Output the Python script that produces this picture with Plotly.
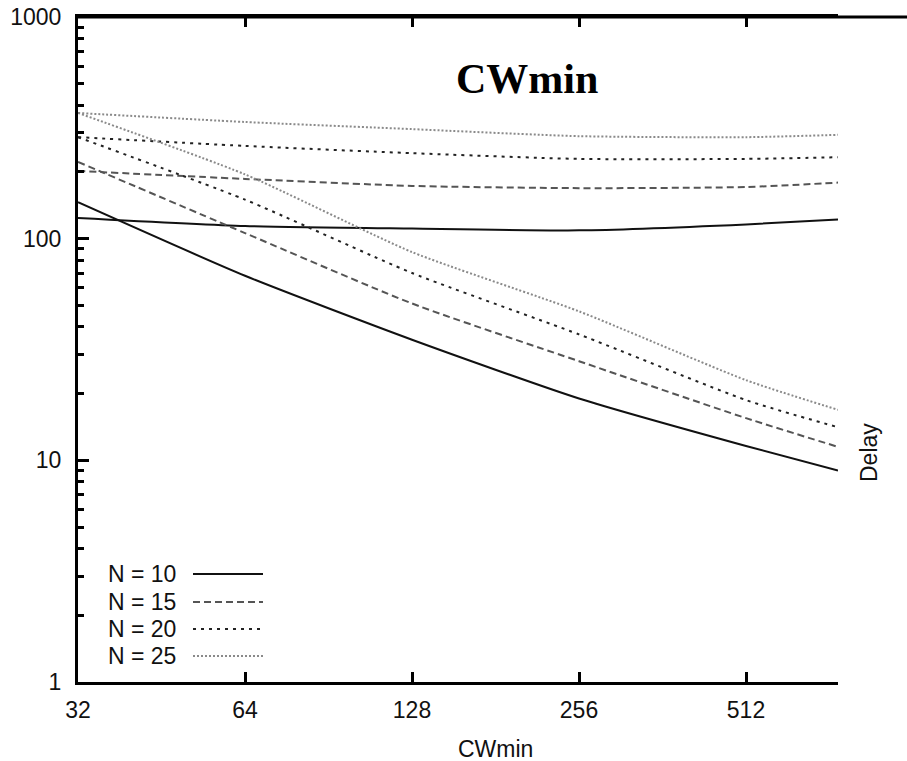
import plotly.graph_objects as go

# Contention window sizes (x) and delay values for each station count
cwmin = [32, 64, 128, 256, 512, 750]

delay_n10_a = [146, 68, 35, 19.0, 11.6, 9.0]
delay_n15_a = [222, 106, 51, 28.0, 15.5, 11.5]
delay_n20_a = [287, 150, 70, 37.0, 18.7, 14.1]
delay_n25_a = [369, 195, 87, 47.0, 23.0, 16.9]

delay_n10_b = [124, 114, 111, 109, 116, 122]
delay_n15_b = [202, 186, 173, 169, 171, 179]
delay_n20_b = [287, 262, 243, 229, 229, 233]
delay_n25_b = [369, 336, 312, 290, 287, 294]

x_ticks = [32, 64, 128, 256, 512]
y_ticks = [1, 10, 100, 1000]
legend_labels = ["N = 10", "N = 15", "N = 20", "N = 25"]

styles = [
    dict(color="#111111", width=2, dash="solid"),
    dict(color="#555555", width=2, dash="7px,4px"),
    dict(color="#222222", width=2, dash="3px,5px"),
    dict(color="#8a8a8a", width=2, dash="2px,2px"),
]

series = [
    (delay_n10_a, delay_n10_b),
    (delay_n15_a, delay_n15_b),
    (delay_n20_a, delay_n20_b),
    (delay_n25_a, delay_n25_b),
]

fig = go.Figure()
for (ya, yb), st, name in zip(series, styles, legend_labels):
    for ys in (ya, yb):
        fig.add_trace(go.Scatter(
            x=cwmin, y=ys, mode="lines", name=name, showlegend=False,
            line=dict(color=st["color"], width=st["width"], dash=st["dash"],
                      shape="spline", smoothing=0.6),
        ))

# Hand-built legend: label text followed by a line sample
L, R, T, B = 78, 69, 17, 79
W, H = 907 - L - R, 761 - T - B
row_y = [574, 602, 629, 656]
for name, st, py in zip(legend_labels, styles, row_y):
    yp = (682 - py) / H
    fig.add_annotation(x=(106 - L) / W, y=yp, xref="paper", yref="paper",
                       text=name, showarrow=False, xanchor="left", yanchor="middle",
                       font=dict(family="Liberation Sans", size=23, color="#111"))
    fig.add_shape(type="line", xref="paper", yref="paper",
                  x0=(193 - L) / W, x1=(263 - L) / W, y0=yp, y1=yp,
                  line=dict(color=st["color"], width=st["width"], dash=st["dash"]))

# Top frame line continues past the plotting area
fig.add_shape(type="line", xref="paper", yref="paper", x0=0, x1=(907 - L) / W,
              y0=1, y1=1, line=dict(color="black", width=3))

fig.add_annotation(x=(527 - L) / W, y=(682 - 79) / H, xref="paper", yref="paper",
                   text="<b>CWmin</b>", showarrow=False, xanchor="center", yanchor="middle",
                   font=dict(family="Liberation Serif", size=42, color="black"))
fig.add_annotation(x=(495 - L) / W, y=(682 - 749) / H, xref="paper", yref="paper",
                   text="CWmin", showarrow=False, xanchor="center", yanchor="middle",
                   font=dict(family="Liberation Sans", size=23, color="#111"))
fig.add_annotation(x=(869 - L) / W, y=(682 - 453) / H, xref="paper", yref="paper",
                   text="Delay", showarrow=False, textangle=-90,
                   xanchor="center", yanchor="middle",
                   font=dict(family="Liberation Sans", size=23, color="#111"))

minor_vals = [m * 10 ** e for e in range(0, 3) for m in range(2, 10)]

fig.update_layout(
    width=907, height=761,
    margin=dict(l=L, r=R, t=T, b=B),
    paper_bgcolor="white", plot_bgcolor="white",
    showlegend=False,
    xaxis=dict(type="log", range=[1.50515, 2.87506], tickvals=x_ticks,
               ticktext=[str(v) for v in x_ticks], automargin=False,
               ticks="inside", ticklen=10, tickwidth=3, tickcolor="black",
               showline=True, linewidth=3, linecolor="black", mirror="ticks",
               showgrid=False, zeroline=False, ticklabelstandoff=5,
               tickfont=dict(family="Liberation Sans", size=23, color="#111")),
    yaxis=dict(type="log", range=[0, 3], tickvals=y_ticks,
               ticktext=[str(v) for v in y_ticks], automargin=False,
               ticks="inside", ticklen=11, tickwidth=3, tickcolor="black",
               showline=True, linewidth=3, linecolor="black", mirror=False,
               showgrid=False, zeroline=False, ticklabelstandoff=9,
               minor=dict(tickvals=minor_vals, ticks="inside", ticklen=6,
                          tickwidth=3, tickcolor="black", showgrid=False),
               tickfont=dict(family="Liberation Sans", size=23, color="#111")),
)

fig.write_html("out.html")
